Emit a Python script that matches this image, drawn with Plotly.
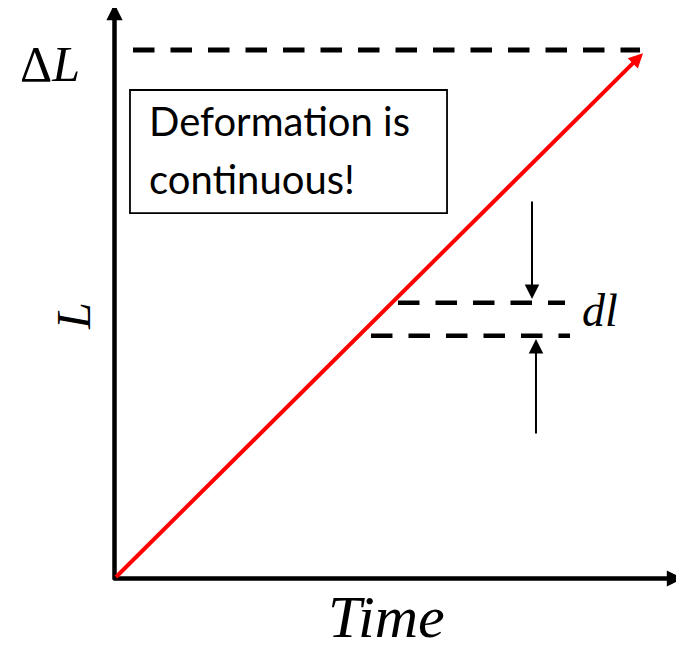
import plotly.graph_objects as go

# ---- data (diagram units: time 0..1, length 0..ΔL=1) ----
time_red = [0.0, 1.0]
length_red = [0.0, 0.994]

delta_L = 1.0
top_dash_time = [0.035, 0.9943]

dl_upper = 0.5219
dl_upper_time = [0.5364, 0.8524]
dl_lower = 0.4594
dl_lower_time = [0.4853, 0.8619]

down_arrow_time = 0.790
down_arrow_from, down_arrow_to = 0.7162, 0.5289
up_arrow_time = 0.7975
up_arrow_from, up_arrow_to = 0.2715, 0.4532

axis_x_end = 1.0757
axis_y_end = 1.0870
axis_start = -0.005

box_time = [0.0293, 0.6292]
box_length = [0.6915, 0.9243]

# ---- layout geometry (page has an 8px body margin) ----
OFF = 8
W, H = 684 - OFF, 651 - OFF
X_RANGE = [-0.20151, 1.07758]
Y_RANGE = [-0.13718, 1.07947]


def px(x):
    return (x - OFF) / W


def py(y):
    return 1 - (y - OFF) / H


fig = go.Figure()

# dashed reference lines
dash = "21.5px,16px"
fig.add_trace(go.Scatter(x=top_dash_time, y=[delta_L, delta_L], mode="lines",
                         line=dict(color="black", width=5, dash=dash), hoverinfo="skip"))
fig.add_trace(go.Scatter(x=dl_upper_time, y=[dl_upper, dl_upper], mode="lines",
                         line=dict(color="black", width=4.5, dash=dash), hoverinfo="skip"))
fig.add_trace(go.Scatter(x=dl_lower_time, y=[dl_lower, dl_lower], mode="lines",
                         line=dict(color="black", width=4.5, dash=dash), hoverinfo="skip"))

# box
fig.add_shape(type="rect", xref="x", yref="y",
              x0=box_time[0], x1=box_time[1], y0=box_length[0], y1=box_length[1],
              line=dict(color="black", width=1.8), fillcolor="rgba(0,0,0,0)")

annotations = []


def arrow(x0, y0, x1, y1, color, width, size):
    annotations.append(dict(x=x1, y=y1, ax=x0, ay=y0, xref="x", yref="y",
                            axref="x", ayref="y", text="", showarrow=True,
                            arrowhead=2, arrowsize=size, arrowwidth=width,
                            arrowcolor=color, standoff=0, startstandoff=0))


# axes with arrowheads
arrow(axis_start, 0, axis_x_end, 0, "black", 4.5, 0.72)
arrow(0, axis_start, 0, axis_y_end, "black", 4.5, 0.72)
# red deformation line
arrow(time_red[0], length_red[0], time_red[1], length_red[1], "#ff0000", 4, 0.72)
# dl arrows
arrow(down_arrow_time, down_arrow_from, down_arrow_time, down_arrow_to, "black", 2, 1.45)
arrow(up_arrow_time, up_arrow_from, up_arrow_time, up_arrow_to, "black", 2, 1.45)

serif = "Liberation Serif"
annotations += [
    dict(x=px(50), y=py(64), xref="paper", yref="paper", text="Δ<i>L</i>",
         showarrow=False, font=dict(family=serif, size=50, color="black"),
         xanchor="center", yanchor="middle"),
    dict(x=px(73), y=py(316), xref="paper", yref="paper", text="<i>L</i>",
         showarrow=False, textangle=-90, font=dict(family=serif, size=48, color="black"),
         xanchor="center", yanchor="middle"),
    dict(x=px(600), y=py(310), xref="paper", yref="paper", text="<i>dl</i>",
         showarrow=False, font=dict(family=serif, size=46, color="black"),
         xanchor="center", yanchor="middle"),
    dict(x=px(386), y=py(617), xref="paper", yref="paper", text="<i>Time</i>",
         showarrow=False, font=dict(family=serif, size=60, color="black"),
         xanchor="center", yanchor="middle"),
    dict(x=px(147), y=py(121), xref="paper", yref="paper", text="Deformation is",
         showarrow=False, font=dict(family="Lato", size=40, color="black"),
         xanchor="left", yanchor="middle"),
    dict(x=px(147), y=py(179), xref="paper", yref="paper", text="continuous!",
         showarrow=False, font=dict(family="Lato", size=40, color="black"),
         xanchor="left", yanchor="middle"),
]

fig.update_layout(
    width=W, height=H,
    margin=dict(l=0, r=0, t=0, b=0),
    paper_bgcolor="white", plot_bgcolor="white",
    showlegend=False,
    xaxis=dict(range=X_RANGE, visible=False, fixedrange=True),
    yaxis=dict(range=Y_RANGE, visible=False, fixedrange=True),
    annotations=annotations,
)

fig.write_html("out.html")
